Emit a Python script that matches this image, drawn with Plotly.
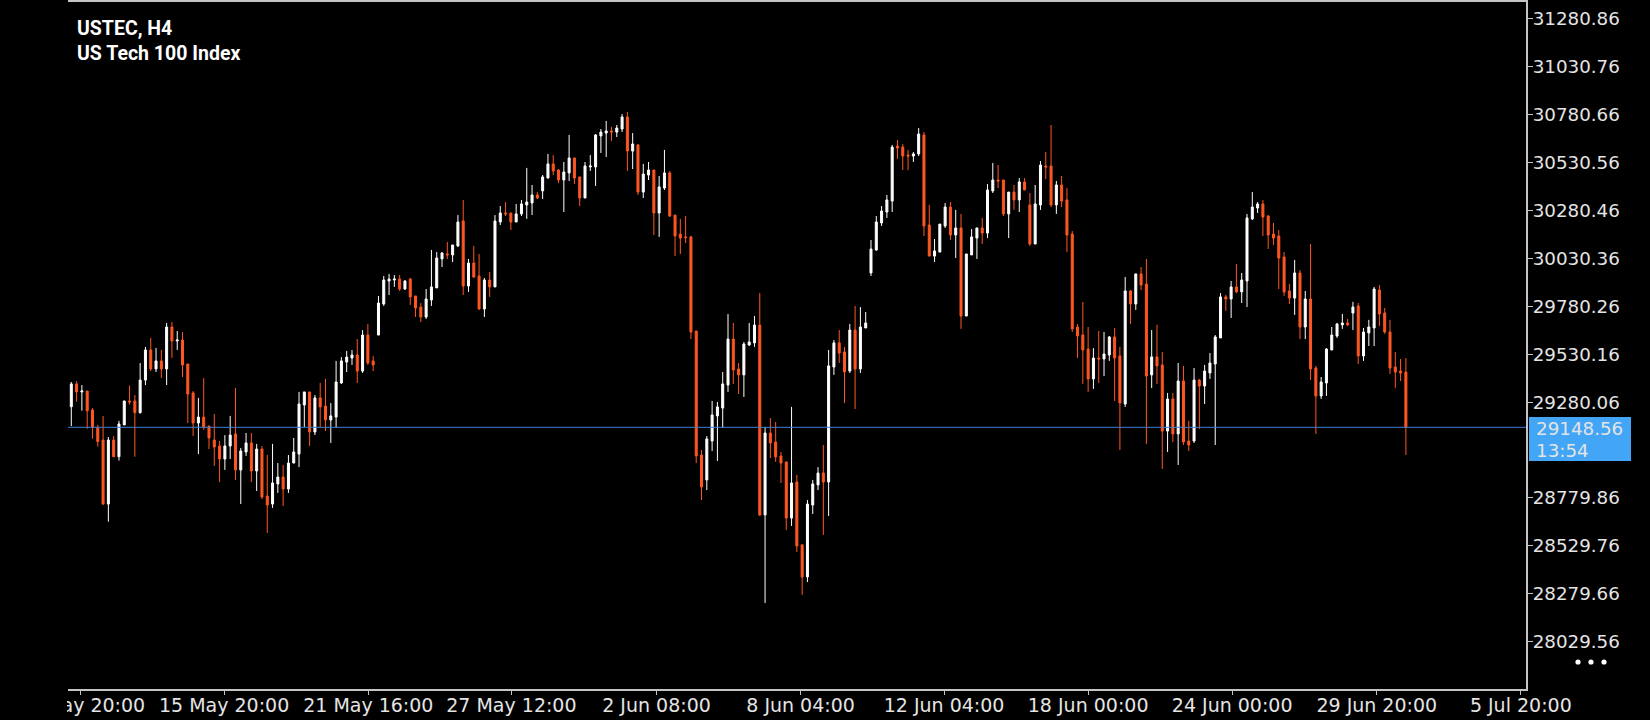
import plotly.graph_objects as go

SYMBOL = "USTEC, H4"
DESCRIPTION = "US Tech 100 Index"

OPEN = [29256, 29375, 29333, 29338, 29239, 29148, 29082, 28748, 29082, 28995,
        29161, 29286, 29286, 29225, 29395, 29552, 29453, 29495, 29453, 29672,
        29599, 29604, 29479, 29328, 29171, 29202, 29155, 29082, 29051, 28983,
        29051, 29114, 28926, 29020, 29067, 28921, 29035, 28790, 28748, 28853,
        28889, 28827, 28962, 29009, 29265, 29333, 29124, 29302, 29260, 29187,
        29202, 29380, 29489, 29510, 29526, 29442, 29630, 29495, 29630, 29792,
        29912, 29917, 29922, 29870, 29922, 29834, 29776, 29724, 29813, 29876,
        30027, 30053, 30048, 30095, 30225, 29886, 30006, 29938, 29766, 29917,
        29881, 30220, 30267, 30267, 30220, 30262, 30309, 30319, 30361, 30382,
        30449, 30523, 30491, 30439, 30476, 30554, 30455, 30345, 30507, 30507,
        30669, 30684, 30695, 30689, 30705, 30768, 30590, 30622, 30376, 30465,
        30491, 30267, 30397, 30476, 30256, 30157, 30142, 30142, 29651, 29004,
        28874, 29077, 29208, 29249, 29369, 29609, 29453, 29422, 29578, 29589,
        29682, 28691, 29119, 29072, 28999, 28968, 28675, 28863, 28535, 28368,
        28743, 28848, 28910, 28863, 29463, 29589, 29542, 29442, 29656, 29453,
        29667, 29954, 30074, 30215, 30272, 30329, 30616, 30611, 30569, 30564,
        30575, 30674, 30204, 30042, 30063, 30199, 30298, 30152, 30189, 29729,
        30048, 30136, 30189, 30162, 30382, 30439, 30439, 30262, 30376, 30335,
        30429, 30309, 30105, 30309, 30512, 30512, 30309, 30413, 30335, 30157,
        29672, 29630, 29557, 29401, 29510, 29505, 29526, 29620, 29521, 29270,
        29860, 29792, 29949, 29896, 29422, 29516, 29474, 29129, 29296, 29114,
        29390, 29077, 29077, 29395, 29364, 29432, 29479, 29615, 29829, 29818,
        29881, 29855, 29912, 30236, 30293, 30314, 30251, 30157, 30147, 30037,
        29860, 29823, 29954, 29672, 29818, 29458, 29312, 29380, 29552, 29625,
        29683, 29693, 29745, 29782, 29521, 29641, 29667, 29865, 29745, 29646,
        29463, 29442, 29437]
HIGH = [29385, 29390, 29369, 29338, 29249, 29161, 29208, 29098, 29103, 29182,
        29286, 29366, 29317, 29484, 29568, 29615, 29562, 29552, 29693, 29698,
        29651, 29646, 29479, 29338, 29302, 29406, 29155, 29218, 29077, 29108,
        29208, 29354, 29041, 29119, 29119, 29062, 29051, 29004, 29062, 28962,
        28952, 29004, 29093, 29333, 29333, 29333, 29317, 29380, 29401, 29275,
        29495, 29515, 29547, 29552, 29609, 29656, 29688, 29521, 29834, 29938,
        29949, 29943, 29943, 29917, 29928, 29834, 29797, 29870, 30074, 30063,
        30063, 30116, 30100, 30256, 30335, 30027, 30095, 30053, 29928, 29959,
        30256, 30303, 30324, 30267, 30314, 30335, 30502, 30413, 30376, 30465,
        30575, 30569, 30496, 30533, 30674, 30554, 30455, 30533, 30569, 30679,
        30705, 30747, 30716, 30726, 30783, 30794, 30684, 30627, 30523, 30533,
        30491, 30460, 30596, 30486, 30256, 30236, 30251, 30147, 29651, 29030,
        29103, 29286, 29281, 29437, 29740, 29693, 29484, 29594, 29693, 29729,
        29849, 29150, 29197, 29176, 29020, 28968, 29255, 28900, 28540, 28769,
        28874, 28941, 29056, 29552, 29604, 29656, 29568, 29688, 29782, 29776,
        29750, 30126, 30251, 30303, 30361, 30622, 30648, 30627, 30596, 30585,
        30710, 30689, 30309, 30131, 30209, 30319, 30324, 30283, 30262, 30053,
        30183, 30189, 30241, 30418, 30528, 30517, 30439, 30376, 30413, 30449,
        30449, 30371, 30413, 30538, 30585, 30726, 30434, 30460, 30397, 30173,
        29688, 29802, 29672, 29562, 29651, 29646, 29625, 29667, 29568, 29933,
        29865, 29949, 29985, 30027, 29656, 29683, 29542, 29328, 29328, 29484,
        29469, 29182, 29458, 29401, 29474, 29536, 29630, 29849, 29839, 29912,
        30001, 29954, 30262, 30376, 30324, 30335, 30256, 30215, 30178, 30063,
        29896, 30022, 29969, 29860, 30105, 29469, 29411, 29562, 29672, 29693,
        29740, 29714, 29803, 29797, 29667, 29709, 29881, 29891, 29771, 29709,
        29542, 29505, 29510]
LOW = [29155, 29282, 29235, 29141, 29089, 29048, 28743, 28656, 28995, 28975,
       29161, 29267, 28995, 29220, 29369, 29442, 29437, 29406, 29369, 29510,
       29552, 29411, 29171, 29103, 29009, 29135, 29035, 28947, 28863, 28926,
       28983, 28874, 28748, 28999, 28863, 28816, 28774, 28597, 28728, 28806,
       28738, 28806, 28962, 28941, 29150, 29051, 29108, 29150, 29129, 29067,
       29145, 29375, 29437, 29474, 29380, 29432, 29474, 29442, 29630, 29782,
       29839, 29881, 29860, 29865, 29787, 29724, 29698, 29714, 29782, 29876,
       29985, 30027, 30011, 30089, 29839, 29855, 29928, 29761, 29724, 29829,
       29881, 30204, 30251, 30178, 30220, 30251, 30236, 30256, 30340, 30340,
       30449, 30465, 30423, 30272, 30434, 30418, 30303, 30345, 30486, 30408,
       30580, 30559, 30643, 30663, 30689, 30486, 30496, 30361, 30345, 30439,
       30152, 30142, 30387, 30246, 30042, 30053, 30110, 29609, 28962, 28769,
       28821, 29025, 28973, 29145, 29333, 29375, 29322, 29307, 29573, 29568,
       28686, 28232, 28988, 28968, 28858, 28613, 28634, 28498, 28274, 28341,
       28696, 28821, 28587, 28686, 29422, 29484, 29275, 29432, 29244, 29432,
       29667, 29938, 30069, 30199, 30241, 30272, 30549, 30491, 30491, 30533,
       30564, 30147, 30042, 30011, 30063, 30189, 30126, 30032, 29662, 29729,
       30048, 30027, 30105, 30136, 30371, 30397, 30251, 30136, 30283, 30272,
       30387, 30095, 30105, 30283, 30444, 30298, 30262, 30298, 30063, 29646,
       29510, 29375, 29333, 29349, 29380, 29416, 29495, 29286, 29030, 29255,
       29688, 29761, 29865, 29062, 29354, 29375, 28931, 29020, 29072, 28952,
       29056, 29025, 29067, 29140, 29270, 29401, 29056, 29615, 29756, 29719,
       29849, 29797, 29776, 30230, 30267, 30147, 30079, 30100, 29870, 29834,
       29792, 29735, 29609, 29609, 29395, 29114, 29296, 29312, 29552, 29615,
       29662, 29677, 29656, 29479, 29495, 29573, 29573, 29677, 29636, 29427,
       29354, 29390, 29004]
CLOSE = [29375, 29333, 29338, 29235, 29148, 29074, 28748, 29082, 28995, 29166,
         29286, 29281, 29225, 29395, 29552, 29453, 29495, 29453, 29672, 29599,
         29604, 29474, 29322, 29171, 29202, 29150, 29093, 29046, 28983, 29051,
         29108, 28926, 29025, 29067, 28921, 29035, 28785, 28743, 28858, 28889,
         28827, 28962, 29020, 29270, 29333, 29124, 29302, 29255, 29187, 29208,
         29385, 29495, 29515, 29526, 29442, 29630, 29484, 29474, 29797, 29917,
         29922, 29922, 29870, 29912, 29829, 29771, 29724, 29818, 29881, 30032,
         30058, 30048, 30100, 30220, 29886, 30006, 29933, 29766, 29917, 29881,
         30225, 30267, 30262, 30220, 30262, 30314, 30324, 30361, 30345, 30455,
         30523, 30486, 30439, 30481, 30554, 30449, 30345, 30512, 30512, 30674,
         30689, 30695, 30689, 30710, 30768, 30590, 30627, 30376, 30470, 30491,
         30267, 30403, 30476, 30251, 30147, 30136, 30138, 29646, 28999, 28837,
         29088, 29213, 29255, 29375, 29609, 29448, 29422, 29583, 29594, 29682,
         28691, 29119, 29067, 28994, 28962, 28675, 28858, 28529, 28368, 28748,
         28853, 28910, 28863, 29469, 29589, 29536, 29437, 29656, 29453, 29672,
         29693, 30079, 30220, 30277, 30335, 30611, 30606, 30564, 30564, 30575,
         30679, 30199, 30042, 30069, 30209, 30298, 30152, 30189, 29729, 30053,
         30142, 30189, 30162, 30387, 30439, 30434, 30262, 30376, 30335, 30429,
         30387, 30105, 30314, 30517, 30507, 30309, 30413, 30329, 30152, 29662,
         29625, 29552, 29401, 29510, 29505, 29531, 29620, 29510, 29276, 29860,
         29792, 29949, 29891, 29416, 29516, 29469, 29129, 29296, 29114, 29390,
         29072, 29056, 29395, 29364, 29442, 29484, 29620, 29829, 29818, 29881,
         29855, 29917, 30241, 30298, 30314, 30246, 30152, 30136, 30032, 29855,
         29823, 29954, 29672, 29818, 29453, 29312, 29385, 29557, 29630, 29688,
         29693, 29683, 29776, 29521, 29646, 29672, 29870, 29740, 29646, 29458,
         29437, 29432, 29148.56]

PRICE_TICKS = [31280.86, 31030.76, 30780.66, 30530.56, 30280.46, 30030.36, 29780.26,
               29530.16, 29280.06, 29029.96, 28779.86, 28529.76, 28279.66, 28029.56]
HIDDEN_PRICE_TICK = 29029.96  # covered by the current-price label
TIME_TICK_POS = [1.65, 28.85, 56.08, 83.1, 110.5, 137.7, 164.8, 192.0, 219.2, 246.5, 273.7]
TIME_TICK_TEXT = ["10 May 20:00", "15 May 20:00", "21 May 16:00", "27 May 12:00",
                  "2 Jun 08:00", "8 Jun 04:00", "12 Jun 04:00", "18 Jun 00:00",
                  "24 Jun 00:00", "29 Jun 20:00", "5 Jul 20:00"]
LAST_PRICE = 29148.56
LAST_TIME = "13:54"

UP = "#ffffff"
DOWN = "#ff5722"
FRAME = "#c4c4c4"
TEXT = "#e4e4e4"
BLUE_LINE = "#3f7fd6"
BLUE_BOX = "#42a5f5"

W, H = 1650, 720
ML, MR, MT, MB = 68, 124, 2, 31
PW = W - ML - MR
PH = H - MT - MB


def px_x(x):
    return (x - ML) / PW


def px_y(y):
    return (H - MB - y) / PH


bars = list(range(len(OPEN)))
fig = go.Figure(go.Candlestick(
    x=bars, open=OPEN, high=HIGH, low=LOW, close=CLOSE,
    increasing=dict(line=dict(color=UP, width=1), fillcolor=UP),
    decreasing=dict(line=dict(color=DOWN, width=1), fillcolor=DOWN),
    whiskerwidth=0, showlegend=False, hoverinfo="skip",
))

y_ticks = [v for v in PRICE_TICKS if v != HIDDEN_PRICE_TICK]
tick_font = dict(family="DejaVu Sans", size=18.3, color=TEXT)

fig.update_layout(
    width=W, height=H,
    margin=dict(l=ML, r=MR, t=MT, b=MB, pad=0, autoexpand=False),
    paper_bgcolor="#000000", plot_bgcolor="#000000",
    boxgap=0.46, boxgroupgap=0.3,
    xaxis=dict(
        range=[-0.623, 274.68], rangeslider=dict(visible=False),
        showgrid=False, zeroline=False, automargin=False,
        showline=True, linecolor=FRAME, linewidth=2, mirror=True,
        tickmode="array", tickvals=TIME_TICK_POS, ticktext=TIME_TICK_TEXT,
        ticks="outside", ticklen=4, tickwidth=1, tickcolor=FRAME,
        ticklabelstandoff=-6,
        tickfont=dict(family="DejaVu Sans", size=19, color=TEXT),
        fixedrange=True,
    ),
    yaxis=dict(
        side="right", range=[27783.0, 31367.8],
        showgrid=False, zeroline=False, automargin=False,
        showline=True, linecolor=FRAME, linewidth=2,
        tickmode="array", tickvals=y_ticks, ticktext=[f"{v:.2f}" for v in y_ticks],
        ticks="outside", ticklen=5, tickwidth=1, tickcolor=FRAME,
        ticklabelstandoff=-4,
        tickfont=tick_font, fixedrange=True,
    ),
)

shapes = [
    dict(type="line", xref="paper", yref="y", x0=0, x1=1, y0=LAST_PRICE, y1=LAST_PRICE,
         line=dict(color=BLUE_LINE, width=1), layer="above"),
    dict(type="rect", xref="paper", yref="paper", x0=px_x(1529), x1=px_x(1631),
         y0=px_y(461), y1=px_y(417), fillcolor=BLUE_BOX, line=dict(width=0), layer="above"),
    # clip the first, partly hidden time label at the left edge
    dict(type="rect", xref="paper", yref="paper", x0=px_x(-10), x1=px_x(67),
         y0=px_y(725), y1=px_y(692), fillcolor="#000000", line=dict(width=0), layer="above"),
]
for cx in (1578, 1591, 1604):
    shapes.append(dict(type="circle", xref="paper", yref="paper",
                       x0=px_x(cx - 2.6), x1=px_x(cx + 2.6),
                       y0=px_y(662 + 2.6), y1=px_y(662 - 2.6),
                       fillcolor="#ffffff", line=dict(width=0), layer="above"))
fig.update_layout(shapes=shapes)

title_font = dict(family="Roboto", size=19.5, color="#ffffff", weight=700)
annotations = [
    dict(text=SYMBOL, xref="paper", yref="paper", x=px_x(74.5), y=px_y(29),
         xanchor="left", yanchor="middle", showarrow=False, font=title_font),
    dict(text=DESCRIPTION, xref="paper", yref="paper", x=px_x(74.5), y=px_y(53.3),
         xanchor="left", yanchor="middle", showarrow=False, font=title_font),
    dict(text=f"{LAST_PRICE:.2f}", xref="paper", yref="paper", x=px_x(1534), y=px_y(428.5),
         xanchor="left", yanchor="middle", showarrow=False, font=tick_font),
    dict(text=LAST_TIME, xref="paper", yref="paper", x=px_x(1534), y=px_y(450.5),
         xanchor="left", yanchor="middle", showarrow=False, font=tick_font),
]
fig.update_layout(annotations=annotations)

fig.write_html(
    "out.html",
    config={"displayModeBar": False},
    post_script="document.body.style.margin='0';document.body.style.background='#000';",
)
